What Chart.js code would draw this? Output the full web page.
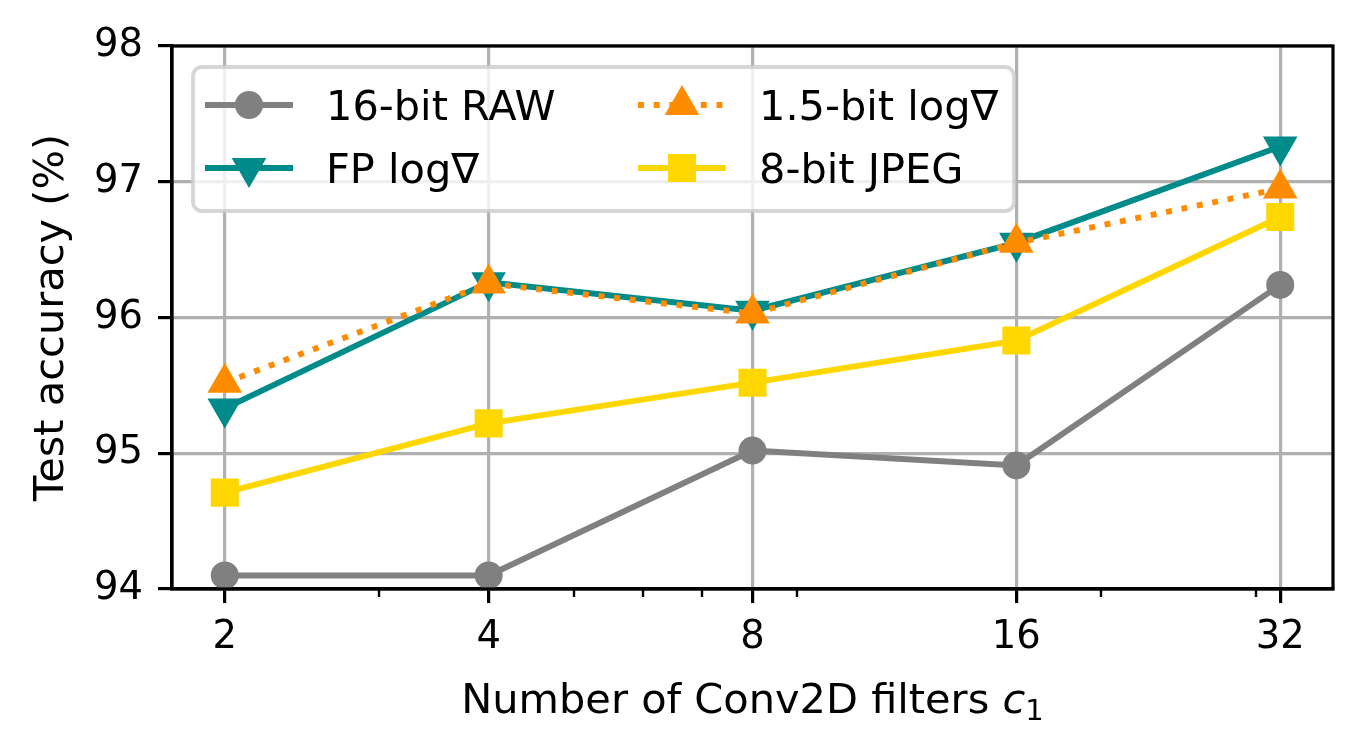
<!DOCTYPE html>
<html>
<head>
<meta charset="utf-8">
<script src="https://cdn.jsdelivr.net/npm/chart.js@4.4.0/dist/chart.umd.min.js"></script>
<style>
html, body { margin: 0; padding: 0; background: #fff; }
#wrap { width: 1363px; height: 751px; }
</style>
</head>
<body>
<div id="wrap"><canvas id="accChart" width="1363" height="751"></canvas></div>
<script>
// values
const filters = [2, 4, 8, 16, 32];
const minorTicks = [3, 5, 6, 7, 9, 20, 30];
const yTicks = [94, 95, 96, 97, 98];
const raw16 = [94.10, 94.10, 95.02, 94.91, 96.24];
const fpLog = [95.33, 96.26, 96.05, 96.55, 97.26];
const log15 = [95.52, 96.25, 96.03, 96.55, 96.95];
const jpeg8 = [94.71, 95.22, 95.52, 95.83, 96.74];
const seriesNames = ['16-bit RAW', 'FP log∇', '1.5-bit log∇', '8-bit JPEG'];

const FONT = '"DejaVu Sans", sans-serif';
const FS = 41.5;      // axis titles + legend
const TICK_FS = 38.5; // tick labels
const LW = 5.9;
const DOTS = [5.9, 9.8];

function toPoints(values) {
    return filters.map((f, i) => ({ x: f, y: values[i] }));
}

const styles = [
    { color: '#808080', marker: 'circle', radius: 12, rotation: 0, dash: [] },
    { color: '#008b8b', marker: 'triangle', radius: 16, rotation: 180, dash: [] },
    { color: '#ff8c00', marker: 'triangle', radius: 16, rotation: 0, dash: DOTS },
    { color: '#ffd700', marker: 'rect', radius: 17, rotation: 0, dash: [] }
];

function makeDataset(idx, values) {
    const s = styles[idx];
    return {
        label: seriesNames[idx],
        data: toPoints(values),
        borderColor: s.color,
        backgroundColor: s.color,
        borderWidth: LW,
        borderDash: s.dash,
        borderCapStyle: 'butt',
        pointStyle: s.marker,
        pointRadius: s.radius,
        pointRotation: s.rotation,
        pointBorderWidth: 4,
        pointBorderColor: s.color,
        pointBackgroundColor: s.color,
        tension: 0,
        fill: false,
        clip: false,
        order: 4 - idx
    };
}

function drawMarker(ctx, s, x, y) {
    ctx.save();
    ctx.fillStyle = s.color;
    ctx.strokeStyle = s.color;
    ctx.lineWidth = 4;
    ctx.setLineDash([]);
    ctx.beginPath();
    const r = s.radius;
    if (s.marker === 'circle') {
        ctx.arc(x, y, r, 0, Math.PI * 2);
    } else if (s.marker === 'rect') {
        const h = r * Math.SQRT1_2;
        ctx.rect(x - h, y - h, 2 * h, 2 * h);
    } else {
        let a = s.rotation * Math.PI / 180;
        for (let k = 0; k < 3; k++) {
            const px = x + Math.sin(a) * r, py = y - Math.cos(a) * r;
            if (k === 0) ctx.moveTo(px, py); else ctx.lineTo(px, py);
            a += Math.PI * 2 / 3;
        }
        ctx.closePath();
    }
    ctx.fill();
    ctx.stroke();
    ctx.restore();
}

function roundRect(ctx, x, y, w, h, r) {
    ctx.beginPath();
    ctx.moveTo(x + r, y);
    ctx.lineTo(x + w - r, y);
    ctx.arcTo(x + w, y, x + w, y + r, r);
    ctx.lineTo(x + w, y + h - r);
    ctx.arcTo(x + w, y + h, x + w - r, y + h, r);
    ctx.lineTo(x + r, y + h);
    ctx.arcTo(x, y + h, x, y + h - r, r);
    ctx.lineTo(x, y + r);
    ctx.arcTo(x, y, x + r, y, r);
    ctx.closePath();
}

const extras = {
    id: 'extras',
    afterDraw(chart) {
        const ctx = chart.ctx;
        const a = chart.chartArea;
        const xs = chart.scales.x;
        ctx.save();

        // minor ticks on the log axis
        ctx.strokeStyle = '#000';
        ctx.lineWidth = 2.4;
        minorTicks.forEach(v => {
            const px = Math.round(xs.getPixelForValue(v));
            ctx.beginPath();
            ctx.moveTo(px, a.bottom);
            ctx.lineTo(px, a.bottom + 8);
            ctx.stroke();
        });

        // frame
        ctx.lineWidth = 3.2;
        ctx.strokeRect(a.left, a.top, a.right - a.left, a.bottom - a.top);

        // axis titles
        ctx.fillStyle = '#000';
        ctx.textBaseline = 'alphabetic';
        const main = 'Number of Conv2D filters ';
        ctx.font = 'italic ' + FS + 'px ' + FONT;
        const wc = ctx.measureText('c').width;
        ctx.font = Math.round(FS * 0.7) + 'px ' + FONT;
        const w1 = ctx.measureText('1').width;
        ctx.font = FS + 'px ' + FONT;
        const wm = ctx.measureText(main).width;
        let tx = (a.left + a.right) / 2 - (wm + wc + w1) / 2;
        ctx.textAlign = 'left';
        ctx.fillText(main, tx, 713);
        ctx.font = 'italic ' + FS + 'px ' + FONT;
        ctx.fillText('c', tx + wm, 713);
        ctx.font = Math.round(FS * 0.7) + 'px ' + FONT;
        ctx.fillText('1', tx + wm + wc, 720);

        ctx.save();
        ctx.translate(63, (a.top + a.bottom) / 2);
        ctx.rotate(-Math.PI / 2);
        ctx.font = FS + 'px ' + FONT;
        ctx.textAlign = 'center';
        ctx.fillText('Test accuracy (%)', 0, 0);
        ctx.restore();

        // legend, two columns like the original
        roundRect(ctx, 193, 67, 821, 144, 9);
        ctx.fillStyle = 'rgba(255,255,255,0.8)';
        ctx.fill();
        ctx.strokeStyle = 'rgba(204,204,204,0.8)';
        ctx.lineWidth = 3.8;
        ctx.stroke();

        const cols = [205, 638];
        const rows = [105, 168];
        const handleLen = 88;
        ctx.font = FS + 'px ' + FONT;
        ctx.textAlign = 'left';
        seriesNames.forEach((name, i) => {
            const s = styles[i];
            const cx = cols[Math.floor(i / 2)];
            const cy = rows[i % 2];
            ctx.strokeStyle = s.color;
            ctx.lineWidth = LW;
            ctx.lineCap = 'butt';
            ctx.setLineDash(s.dash);
            ctx.beginPath();
            ctx.moveTo(cx, cy);
            ctx.lineTo(cx + handleLen, cy);
            ctx.stroke();
            ctx.setLineDash([]);
            drawMarker(ctx, s, cx + handleLen / 2, cy);
            ctx.fillStyle = '#000';
            ctx.fillText(name, cx + handleLen + 33, cy + 15);
        });
        ctx.restore();
    }
};

const tickFont = { family: FONT, size: TICK_FS };

new Chart(document.getElementById('accChart'), {
    type: 'line',
    data: {
        datasets: [
            makeDataset(0, raw16),
            makeDataset(1, fpLog),
            makeDataset(2, log15),
            makeDataset(3, jpeg8)
        ]
    },
    options: {
        responsive: false,
        animation: false,
        devicePixelRatio: 1,
        layout: { padding: { left: 0, right: 30, top: 46, bottom: 0 } },
        plugins: {
            legend: { display: false },
            tooltip: { enabled: false }
        },
        scales: {
            x: {
                type: 'logarithmic',
                bounds: 'data',
                min: Math.pow(2, 0.8),
                max: Math.pow(2, 5.2),
                afterBuildTicks: s => { s.ticks = filters.map(v => ({ value: v })); },
                afterFit: s => { s.height = 751 - 589; },
                ticks: {
                    callback: v => String(v),
                    font: tickFont,
                    color: '#000',
                    padding: 12,
                    maxRotation: 0,
                    autoSkip: false
                },
                grid: { color: '#b0b0b0', lineWidth: 3.2, tickColor: '#000', tickWidth: 3.2, tickLength: 14 },
                border: { display: true, color: '#000', width: 3.2 }
            },
            y: {
                min: 94,
                max: 98,
                afterBuildTicks: s => { s.ticks = yTicks.map(v => ({ value: v })); },
                afterFit: s => { s.width = 172; },
                ticks: {
                    callback: v => String(v),
                    font: tickFont,
                    color: '#000',
                    padding: 15
                },
                grid: { color: '#b0b0b0', lineWidth: 3.2, tickColor: '#000', tickWidth: 3.2, tickLength: 14 },
                border: { display: true, color: '#000', width: 3.2 }
            }
        }
    },
    plugins: [extras]
});
</script>
</body>
</html>
